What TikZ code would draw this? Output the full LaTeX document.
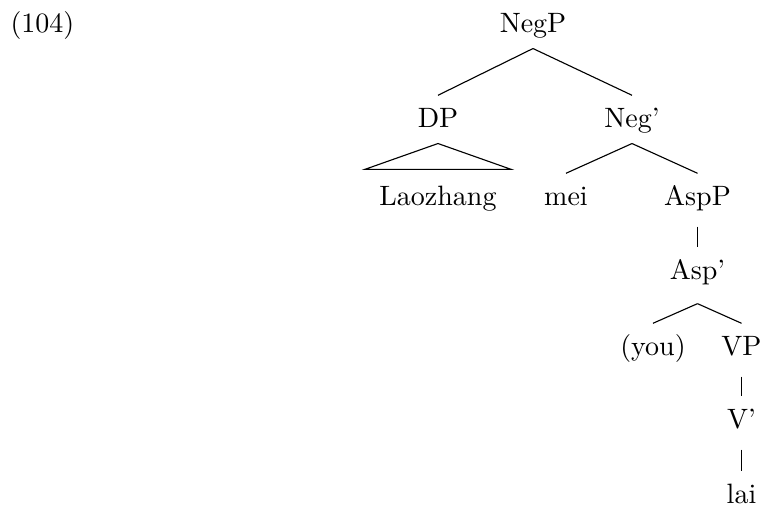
\documentclass[tikz,border=0pt]{standalone}
\usetikzlibrary{positioning}

\begin{document}
\begin{tikzpicture}[
    x=0.3571pt, y=-0.3571pt,
    cat/.style={anchor=base, inner xsep=3pt, inner ysep=4.3pt, text height=6.83pt, text depth=1.4pt},
    branch/.style={line width=0.4pt},
    unary/.style={branch, shorten <=1.8pt}
]
\useasboundingbox (0,0) rectangle (761,506);
\node[anchor=base west, inner sep=0pt] (ex) at (10,32) {(104)};
% tree
\node[cat] (negp) at (533,32) {NegP};
\node[cat] (dp) at (438,127) {DP};
\node[cat] (negbar) at (632,127) {Neg'};
\node[cat, inner xsep=5pt] (laozhang) at (438,205) {Laozhang};
\node[cat] (mei) at (566,205) {mei};
\node[cat] (aspp) at (697.5,205) {AspP};
\node[cat] (aspbar) at (697.5,279) {Asp'};
\node[cat] (you) at (653,355) {(you)};
\node[cat] (vp) at (741.5,355) {VP};
\node[cat] (vbar) at (741.5,428) {V'};
\node[cat] (lai) at (741.5,503) {lai};
\draw[branch] (negp.south) -- (dp.north);
\draw[branch] (negp.south) -- (negbar.north);
\draw[branch] (dp.south) -- ([yshift=1.4pt]laozhang.north east) -- ([yshift=1.4pt]laozhang.north west) -- cycle;
\draw[branch] (negbar.south) -- (mei.north);
\draw[branch] (negbar.south) -- (aspp.north);
\draw[unary] (aspp.south) -- (aspbar.north);
\draw[branch] ([yshift=-2.9pt]aspbar.south) -- (you.north);
\draw[branch] ([yshift=-2.9pt]aspbar.south) -- (vp.north);
\draw[unary] (vp.south) -- (vbar.north);
\draw[unary] (vbar.south) -- (lai.north);
\end{tikzpicture}
\end{document}
